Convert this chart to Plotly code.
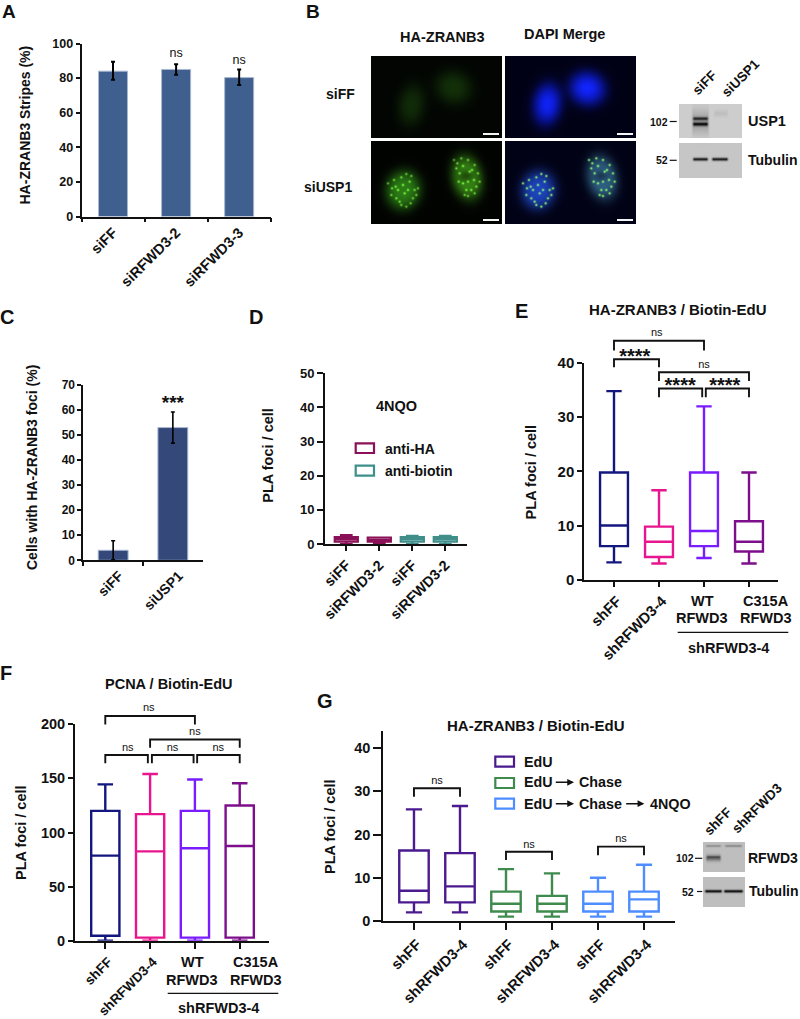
import numpy as np
import plotly.graph_objects as go

W, H = 800, 1019
FONT = "Liberation Sans"
INK = "#111111"

# ---------- data ----------
A_CATS = ["siFF", "siRFWD3-2", "siRFWD3-3"]
A_VALS = [84, 85, 80.3]
A_UP = [5.5, 3, 4.7]
A_DN = [5, 3, 4.3]
A_NS_Y = [94, 90]

C_CATS = ["siFF", "siUSP1"]
C_VALS = [4, 53]
C_ERR = [3.8, 6.2]

D_LABELS = ["siFF", "siRFWD3-2", "siFF", "siRFWD3-2"]
D_HIGH = [2.6, 1.9, 2.4, 2.4]
D_Q3 = [2.0, 1.9, 2.0, 2.0]
D_MED = [1.4, 1.2, 1.4, 1.4]
D_Q1 = [0.7, 0.7, 0.7, 0.7]
D_LOW = [0, 0.2, 0, 0]
D_COLORS = ["#8a1157", "#8a1157", "#3f8e8a", "#3f8e8a"]

E_LABELS = ["shFF", "shRFWD3-4", "", ""]
E_HIGH = [34.8, 16.5, 32, 19.8]
E_Q3 = [19.8, 9.8, 19.8, 10.8]
E_MED = [10, 7, 9, 7]
E_Q1 = [6.2, 4.2, 6.2, 5.2]
E_LOW = [3.2, 3, 4, 3]
BOX4_COLORS = ["#14167f", "#e8168e", "#7a1cff", "#7d0f8c"]

F_HIGH = [144.5, 154, 149, 145.5]
F_Q3 = [120, 117, 120, 125]
F_MED = [78.6, 82.6, 85.4, 87.5]
F_Q1 = [4.6, 2.8, 2.8, 2.8]
F_LOW = [0, 0, 0, 0]

G_LABELS = ["shFF", "shRFWD3-4"] * 3
G_HIGH = [25.8, 26.6, 12, 11, 10, 13]
G_Q3 = [16.3, 15.7, 6.8, 5.8, 6.8, 6.8]
G_MED = [7, 8, 4, 4, 4, 5]
G_Q1 = [4.3, 4.3, 2.2, 2.2, 2.2, 2.2]
G_LOW = [2, 2, 1, 1, 1, 1]
G_COLORS = ["#4a1a8e", "#4a1a8e", "#3f8a4d", "#3f8a4d", "#4d8dff", "#4d8dff"]

# brackets: x0, x1, top, left foot, right foot, label, label x, label y, label size
E_BRACKETS = [
    (1, 3, 44.1, 42.3, 42.3, "ns", 1.95, 45.5, 11),
    (1, 2, 40.7, 39.2, 39.2, "****", 1.46, 41.0, 20),
    (2, 4, 38.3, 36.7, 36.7, "ns", 3.0, 39.5, 11),
    (2, 2.96, 35.3, 33.7, 33.7, "****", 2.47, 35.6, 20),
    (3.04, 4, 35.3, 33.7, 33.7, "****", 3.46, 35.6, 20),
]
F_BRACKETS = [
    (1, 3, 207.7, 199.7, 199.7, "ns", 1.97, 215, 11),
    (2, 4, 186, 178.4, 178.4, "ns", 3.0, 192.5, 11),
    (1, 1.95, 171.6, 164, 164, "ns", 1.5, 178, 11),
    (2.04, 2.97, 171.6, 164, 164, "ns", 2.5, 178, 11),
    (3.05, 4, 171.6, 164, 164, "ns", 3.52, 178, 11),
]
G_BRACKETS = [
    (1, 2, 30.7, 28.7, 28.7, "ns", 1.5, 32.3, 11),
    (3, 4, 16, 14.1, 14.1, "ns", 3.5, 17.6, 11),
    (5, 6, 17.2, 15.2, 15.2, "ns", 5.5, 19, 11),
]

# texture: foci seen in the siUSP1 nuclei (3x crop px)
FOCI_LEFT = [(100,112),(115,102),(83,140),(70,165),(110,160),(125,125),(140,150),(95,185),
             (115,200),(100,195),(135,175),(78,120),(150,145),(120,150),(90,150),(105,135),
             (72,145),(128,190),(85,175),(145,165),(60,130),(130,108)]
FOCI_RIGHT = [(268,70),(285,78),(300,60),(320,75),(330,100),(318,120),(300,125),(275,100),
              (285,130),(295,150),(310,150),(325,140),(265,85),(305,95),(290,165),(280,55),
              (312,90),(272,125),(335,125),(300,168),(258,60),(320,160)]


# ---------- raster panels ----------
def grid(ox, oy, w, h):
    return np.meshgrid(np.arange(w) + ox + 0.5, np.arange(h) + oy + 0.5)

def blob(X, Y, cx, cy, rx, ry, ang=0.0, power=2.0):
    t = np.deg2rad(ang)
    u = (X - cx) * np.cos(t) + (Y - cy) * np.sin(t)
    v = -(X - cx) * np.sin(t) + (Y - cy) * np.cos(t)
    return np.exp(-(((u / rx) ** 2 + (v / ry) ** 2) ** power))

MX, MY, MW, MH = 370, 55, 267, 170
X, Y = grid(MX, MY, MW, MH)
micro = np.full((MH, MW, 3), 255.0)

def tint(mask, color):
    return mask[..., None] * np.array(color, float)

def fill_panel(x0, x1, y0, y1, rgb):
    sel = (X >= x0) & (X < x1) & (Y >= y0) & (Y < y1)
    micro[sel] = np.clip(rgb[sel], 0, 255)

def foci(dx):
    out = np.zeros_like(X)
    for (fx, fy) in FOCI_LEFT + FOCI_RIGHT:
        out += blob(X, Y, 368 + fx / 3 + dx, 140 + fy / 3, 1.25, 1.25, 0, 1)
    return np.clip(out, 0, 1)

L = lambda dx: blob(X, Y, 403.3 + dx, 190, 17.3, 19.5, 10, 1.6)
R = lambda dx: blob(X, Y, 467 + dx, 177.5, 15, 22, -12, 1.6)
HOLE = lambda dx: blob(X, Y, 466 + dx, 176, 8, 6, 0, 1)

top_g = (tint(blob(X, Y, 411.5, 105, 13, 20, 8, 1.3), (14, 38, 6))
         + tint(blob(X, Y, 453.5, 87.5, 18, 16, 20, 1.3), (16, 42, 6))
         + np.array((2, 5, 2.0)))
fill_panel(370.7, 501.7, 55.7, 138, top_g)

top_m = (tint(blob(X, Y, 547.3, 104, 14.5, 21, 8, 1.5), (10, 25, 190))
         + tint(blob(X, Y, 547.3, 104, 7, 11, 0, 1), (5, 8, 30))
         + tint(blob(X, Y, 587.3, 88.5, 18.5, 17, 20, 1.5), (12, 28, 200))
         + tint(blob(X, Y, 587, 88, 9, 7, 0, 1), (5, 8, 30))
         + np.array((1, 1, 22.0)))
fill_panel(505.3, 636, 55.7, 138, top_m)

bot_g = (tint(L(0), (42, 120, 20)) + tint(R(0) * (1 - 0.45 * HOLE(0)), (55, 135, 20))
         + tint(foci(0), (70, 125, 40)) + np.array((1, 3, 1.0)))
fill_panel(370.7, 501.7, 141.3, 223.7, bot_g)

spots = foci(135)
bot_m = ((tint(L(135), (28, 65, 165)) + tint(R(135) * (1 - 0.45 * HOLE(135)), (48, 100, 115))) * (1 - 0.75 * spots[..., None])
         + tint(spots, (120, 215, 70)) + np.array((1, 2, 22.0)))
fill_panel(505.3, 636, 141.3, 223.7, bot_m)

for bx0, bx1 in ((483, 499), (617, 633)):
    for by in (133, 219):
        sel = (X >= bx0) & (X < bx1) & (Y >= by) & (Y < by + 2)
        micro[sel] = 245

def band(img, Xa, Ya, x0, x1, yc, thick, dark):
    prof_y = np.exp(-((Ya - yc) / thick) ** 2)
    prof_x = np.clip((Xa - x0) / 2.5, 0, 1) * np.clip((x1 - Xa) / 2.5, 0, 1)
    img -= dark * prof_x * prof_y

BX1, BY1, BW1, BH1 = 679, 104, 63, 74
X1, Y1 = grid(BX1, BY1, BW1, BH1)
g1 = np.full((BH1, BW1), 255.0)
s = (Y1 < 138.5)
g1[s] = 205
s2 = (Y1 >= 143.3)
g1[s2] = 198
band(g1, X1, Y1, 691, 710, 122, 12, 45)
band(g1, X1, Y1, 692, 709, 118.7, 1.7, 125)
band(g1, X1, Y1, 692, 709, 124.2, 1.9, 150)
band(g1, X1, Y1, 713, 729, 113.5, 3, 15)
band(g1, X1, Y1, 692, 709, 159.3, 1.6, 165)
band(g1, X1, Y1, 711, 729, 159.3, 1.6, 165)
g1[(Y1 >= 138.5) & (Y1 < 143.3)] = 255

BX2, BY2, BW2, BH2 = 703, 842, 42, 65
X2, Y2 = grid(BX2, BY2, BW2, BH2)
g2 = np.full((BH2, BW2), 190.0)
band(g2, X2, Y2, 705, 722, 846, 1.2, 45)
band(g2, X2, Y2, 724, 743, 846, 1.2, 50)
band(g2, X2, Y2, 705, 722, 858, 3.0, 85)
band(g2, X2, Y2, 706, 721, 857, 1.0, 40)
band(g2, X2, Y2, 704, 723, 891.3, 1.5, 170)
band(g2, X2, Y2, 723, 744, 891.3, 1.5, 170)
g2[(Y2 >= 872.3) & (Y2 < 877)] = 255

def rgb_list(a):
    if a.ndim == 2:
        a = np.stack([a] * 3, axis=-1)
    return np.clip(a, 0, 255).round().astype(int).tolist()

# ---------- helpers ----------
fig = go.Figure()
annotations, shapes = [], []
axes = {}

def dx(a, b):
    return [a / W, b / W]

def dy(top, bottom):
    return [1 - bottom / H, 1 - top / H]

def note(text, x, y, size=14, bold=True, angle=0, xanchor="center", color=INK):
    annotations.append(dict(text=text, x=x / W, y=1 - y / H, xref="paper", yref="paper",
                            showarrow=False, textangle=angle, xanchor=xanchor, yanchor="middle",
                            font=dict(family=FONT, size=size, color=color,
                                      weight="bold" if bold else "normal")))

def pline(x0, y0, x1, y1, color="#111111", width=1.5):
    shapes.append(dict(type="line", xref="paper", yref="paper", x0=x0 / W, x1=x1 / W,
                       y0=1 - y0 / H, y1=1 - y1 / H, line=dict(color=color, width=width)))

def swatch(x0, y0, x1, y1, color):
    shapes.append(dict(type="rect", xref="paper", yref="paper", x0=x0 / W, x1=x1 / W,
                       y0=1 - y0 / H, y1=1 - y1 / H, line=dict(color=color, width=2.2),
                       fillcolor="white"))

def arrow(x0, x1, y):
    annotations.append(dict(text="", x=x1 / W, y=1 - y / H, ax=x0 - x1, ay=0,
                            xref="paper", yref="paper",
                            showarrow=True, arrowhead=2, arrowsize=0.9, arrowwidth=1.5,
                            arrowcolor=INK))

def axis_pair(i, xd, yd, xr, yr, yticks, xticklen, yticklen, ysize, xsize,
              width=1.8, xkw=None):
    s = "" if i == 1 else str(i)
    xa = dict(domain=xd, range=xr, anchor=f"y{s}", showgrid=False, zeroline=False, automargin=False,
              showline=True, linecolor=INK, linewidth=width, ticks="outside",
              ticklen=xticklen, tickwidth=width, tickcolor=INK, tickangle=-45,
              tickfont=dict(family=FONT, size=xsize, color=INK, weight="bold"))
    if xkw:
        xa.update(xkw)
    ya = dict(domain=yd, range=yr, anchor=f"x{s}", showgrid=False, zeroline=False, automargin=False,
              showline=True, linecolor=INK, linewidth=width, ticks="outside",
              ticklen=yticklen, tickwidth=width, tickcolor=INK, tickvals=yticks,
              tickfont=dict(family=FONT, size=ysize, color=INK, weight="bold"))
    axes[f"xaxis{s}"] = xa
    axes[f"yaxis{s}"] = ya
    return (f"x{s}", f"y{s}")

def overlay_axis(i, base_x, y_zero_px, px_per_unit, top_value):
    """Hidden y axis sharing the panel's scale, tall enough to hold the significance brackets."""
    axes[f"yaxis{i}"] = dict(domain=dy(y_zero_px - top_value * px_per_unit, y_zero_px),
                             range=[0, top_value], visible=False, anchor=base_x, automargin=False)
    return (base_x, f"y{i}")

def add_boxes(ref, high, q3, med, q1, low, colors, width, cap=0.55, lw=2.4):
    for k in range(len(high)):
        fig.add_trace(go.Box(x=[k + 1], q1=[q1[k]], median=[med[k]], q3=[q3[k]],
                             lowerfence=[low[k]], upperfence=[high[k]], width=width,
                             whiskerwidth=cap, boxpoints=False, showlegend=False,
                             fillcolor="rgba(0,0,0,0)", line=dict(color=colors[k], width=lw),
                             xaxis=ref[0], yaxis=ref[1], hoverinfo="skip"))

def add_brackets(ref, items):
    for (x0, x1, top, f0, f1, lab, lx, ly, ls) in items:
        fig.add_trace(go.Scatter(x=[x0, x0, x1, x1], y=[f0, top, top, f1], mode="lines",
                                 line=dict(color=INK, width=1.9), cliponaxis=False,
                                 showlegend=False, hoverinfo="skip",
                                 xaxis=ref[0], yaxis=ref[1]))
        fig.add_trace(go.Scatter(x=[lx], y=[ly], mode="text", text=[lab], textposition="middle center",
                                 textfont=dict(family=FONT, size=ls, color=INK,
                                               weight="bold" if lab.startswith("*") else "normal"),
                                 cliponaxis=False, showlegend=False, hoverinfo="skip",
                                 xaxis=ref[0], yaxis=ref[1]))

# ---------- panel A ----------
ra = axis_pair(1, dx(81.5, 270.7), dy(43.5, 216.5), [-0.5, 2.5], [0, 100], [0, 20, 40, 60, 80, 100],
               4, 4, 12.5, 14.5, xkw=dict(type="category", tickson="boundaries", categoryarray=A_CATS))
fig.add_trace(go.Bar(x=A_CATS, y=A_VALS, width=0.46, marker=dict(color="#3f5f8e", line=dict(color="#a9b7d0", width=1)),
                     error_y=dict(type="data", symmetric=False, array=A_UP, arrayminus=A_DN,
                                  color="#000000", thickness=2, width=2),
                     showlegend=False, xaxis=ra[0], yaxis=ra[1], hoverinfo="skip"))
fig.add_trace(go.Scatter(x=A_CATS[1:], y=A_NS_Y, mode="text", text=["ns", "ns"],
                         textfont=dict(family=FONT, size=12.5, color=INK), showlegend=False,
                         xaxis=ra[0], yaxis=ra[1], hoverinfo="skip", cliponaxis=False))
note("HA-ZRANB3 Stripes (%)", 24.5, 125, 14, angle=-90)

# ---------- panel C ----------
rc = axis_pair(2, dx(83.3, 202.7), dy(385, 560.3), [-0.5, 1.5], [0, 70], [0, 10, 20, 30, 40, 50, 60, 70],
               4, 4, 12, 14, xkw=dict(type="category", tickson="boundaries", categoryarray=C_CATS,
                                       ticklabelshift=6))
fig.add_trace(go.Bar(x=C_CATS, y=C_VALS, width=0.5, marker=dict(color="#34497a", line=dict(color="#a9b7d0", width=1)),
                     error_y=dict(type="data", array=C_ERR, color="#000000", thickness=1.6, width=2),
                     showlegend=False, xaxis=rc[0], yaxis=rc[1], hoverinfo="skip"))
fig.add_trace(go.Scatter(x=[C_CATS[1]], y=[62.5], mode="text", text=["***"],
                         textfont=dict(family=FONT, size=19, color=INK, weight="bold"), showlegend=False,
                         xaxis=rc[0], yaxis=rc[1], hoverinfo="skip", cliponaxis=False))
note("Cells with HA-ZRANB3 foci (%)", 32, 468, 14, angle=-90)

# ---------- panel D ----------
rd = axis_pair(3, dx(325, 466.7), dy(373.3, 544), [0.355, 4.648], [0, 50], [0, 10, 20, 30, 40, 50],
               5, 6, 13, 14.5, xkw=dict(tickvals=[1, 2, 3, 4], ticktext=D_LABELS))
add_boxes(rd, D_HIGH, D_Q3, D_MED, D_Q1, D_LOW, D_COLORS, 0.7, cap=0.55, lw=2.2)
note("PLA foci / cell", 268, 455.7, 14.5, angle=-90)
note("4NQO", 396.7, 406, 14.5)
swatch(355.7, 443.3, 374, 453, "#8a1157")
swatch(355.7, 465.7, 374, 475.7, "#3f8e8a")
note("anti-HA", 382.7, 448.7, 14, xanchor="left")
note("anti-biotin", 382.7, 470.7, 14, xanchor="left")

# ---------- panel E ----------
re_ = axis_pair(4, dx(584.3, 778.3), dy(363, 579.7), [0.34, 4.651], [0, 40], [0, 10, 20, 30, 40],
                5, 5, 15, 14.8, width=2, xkw=dict(tickvals=[1, 2, 3, 4], ticktext=E_LABELS, ticklabelshift=3))
add_boxes(re_, E_HIGH, E_Q3, E_MED, E_Q1, E_LOW, BOX4_COLORS, 0.62)
add_brackets(overlay_axis(10, "x4", 579.7, (579.7 - 363) / 40, 48), E_BRACKETS)
note("PLA foci / cell", 530.7, 471.7, 14.5, angle=-90)
note("HA-ZRANB3 / Biotin-EdU", 677.7, 309.3, 15)
note("WT", 702, 600.7, 14.5)
note("RFWD3", 702, 618.3, 14.5)
note("C315A", 765.7, 600.7, 14.5)
note("RFWD3", 765.7, 618.3, 14.5)
pline(677.7, 632.3, 788.3, 632.3, width=1.3)
note("shRFWD3-4", 728.3, 648.3, 14.5)

# ---------- panel F ----------
rf = axis_pair(5, dx(75, 269.3), dy(724.3, 940.7), [0.324, 4.66], [0, 200], [0, 50, 100, 150, 200],
               6, 5, 14.5, 13.5, width=2, xkw=dict(tickvals=[1, 2, 3, 4], ticktext=E_LABELS, ticklabelshift=3))
add_boxes(rf, F_HIGH, F_Q3, F_MED, F_Q1, F_LOW, BOX4_COLORS, 0.63)
add_brackets(overlay_axis(11, "x5", 940.7, (940.7 - 724.3) / 200, 225), F_BRACKETS)
note("PLA foci / cell", 21, 833, 14.5, angle=-90)
note("PCNA / Biotin-EdU", 168.7, 684, 14.5)
note("WT", 192.3, 961.7, 14.5)
note("RFWD3", 192.3, 980, 14.5)
note("C315A", 255.7, 961.7, 14.5)
note("RFWD3", 255.7, 980, 14.5)
pline(167.7, 993.3, 278.3, 993.3, width=1.3)
note("shRFWD3-4", 218.3, 1007.5, 14.5)

# ---------- panel G ----------
rg = axis_pair(6, dx(383.3, 675), dy(730.7, 921), [0.333, 6.674], [0, 44], [0, 10, 20, 30, 40],
               7, 8, 14.5, 14.8, width=2, xkw=dict(tickvals=[1, 2, 3, 4, 5, 6], ticktext=G_LABELS, ticklabelshift=3))
add_boxes(rg, G_HIGH, G_Q3, G_MED, G_Q1, G_LOW, G_COLORS, 0.64)
add_brackets(rg, G_BRACKETS)
note("PLA foci / cell", 330, 827, 14.5, angle=-90)
note("HA-ZRANB3 / Biotin-EdU", 535.7, 725.3, 15)
swatch(495.3, 756.7, 514, 766.7, "#4a1a8e")
swatch(495.3, 778, 514, 788, "#3f8a4d")
swatch(495.3, 798.7, 514, 808.7, "#4d8dff")
note("EdU", 522, 761.7, 14.3, xanchor="left")
note("EdU", 522, 782.3, 14.3, xanchor="left")
note("EdU", 522, 803.7, 14.3, xanchor="left")
note("Chase", 577.3, 782.3, 14.3, xanchor="left")
note("Chase", 577.3, 803.7, 14.3, xanchor="left")
note("4NQO", 647.7, 803.7, 14.3, xanchor="left")
arrow(554.3, 574, 782.3)
arrow(554.3, 574, 803.7)
arrow(624.7, 644.3, 803.7)

# ---------- panel B images ----------
def add_raster(i, ox, oy, w, h, arr):
    s = str(i)
    axes[f"xaxis{s}"] = dict(domain=dx(ox, ox + w), range=[0, w], visible=False, anchor=f"y{s}", automargin=False)
    axes[f"yaxis{s}"] = dict(domain=dy(oy, oy + h), range=[h, 0], visible=False, anchor=f"x{s}", automargin=False)
    fig.add_trace(go.Image(z=rgb_list(arr), x0=0.5, y0=0.5, dx=1, dy=1, xaxis=f"x{s}", yaxis=f"y{s}",
                           hoverinfo="skip"))

add_raster(7, MX, MY, MW, MH, micro)
add_raster(8, BX1, BY1, BW1, BH1, g1)
add_raster(9, BX2, BY2, BW2, BH2, g2)

note("HA-ZRANB3", 442.7, 37.3, 14.5)
note("DAPI Merge", 564, 34.3, 14.5)
note("siFF", 340, 94, 14)
note("siUSP1", 328, 186.7, 14)
note("siFF", 705, 83, 13.5, angle=-45)
note("siUSP1", 740, 78, 13.5, angle=-45)
note("102", 659, 121.7, 10.5)
note("52", 661.7, 160.3, 10.5)
pline(669.7, 121.5, 676.7, 121.5, width=1.2)
pline(669.7, 160.3, 676.7, 160.3, width=1.2)
note("USP1", 767.3, 120.7, 14.5)
note("Tubulin", 772.8, 160.3, 14)

note("shFF", 718, 821.7, 13.5, angle=-45)
note("shRFWD3", 756.7, 808.3, 13.5, angle=-45)
note("102", 685, 858.3, 10.5)
note("52", 687.7, 891.7, 10.5)
pline(695, 858.3, 702.3, 858.3, width=1.2)
pline(697, 891.5, 702.3, 891.5, width=1.2)
note("RFWD3", 773.3, 858, 14)
note("Tubulin", 774, 891, 14)

for letter, lx, ly, ls in [("A", 9, 11.5, 19), ("B", 313, 11.5, 19), ("C", 7, 317, 20), ("D", 256, 317, 20),
                           ("E", 521, 311, 20), ("F", 6, 673, 20), ("G", 325, 701, 20)]:
    note(letter, lx, ly, ls)

fig.update_layout(width=W, height=H, margin=dict(l=0, r=0, t=0, b=0), paper_bgcolor="white",
                  plot_bgcolor="rgba(0,0,0,0)", showlegend=False, annotations=annotations, shapes=shapes,
                  boxmode="overlay", template="none", **axes)
fig.write_html("out.html", config={"displayModeBar": False},
               post_script="document.body.style.margin='0';")
